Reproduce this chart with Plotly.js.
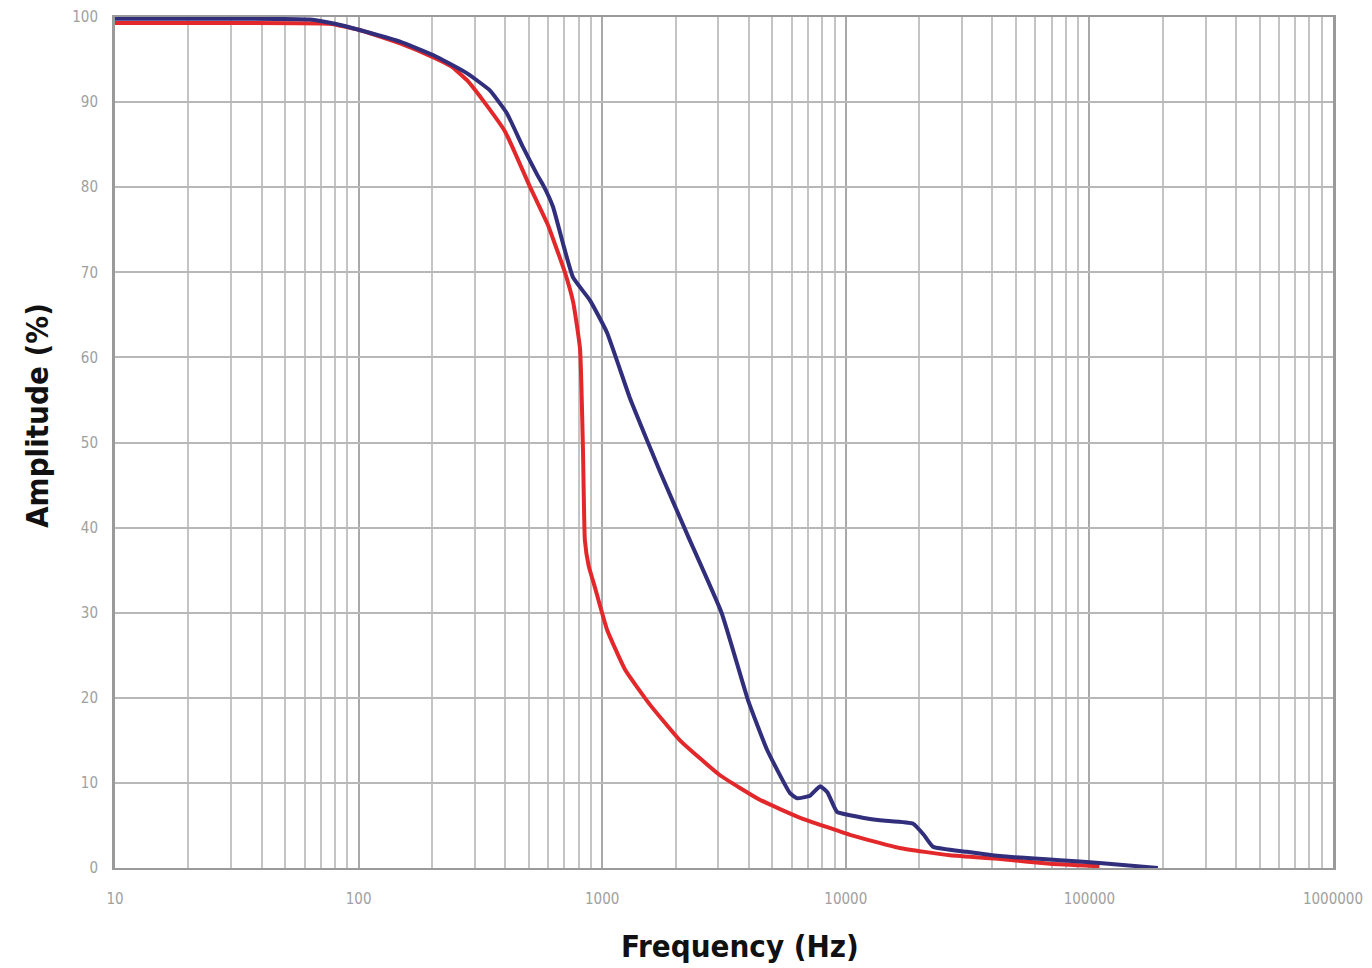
<!DOCTYPE html>
<html>
<head>
<meta charset="utf-8">
<script src="https://cdn.plot.ly/plotly-3.0.1.min.js"></script>
<style>
html,body{margin:0;padding:0;background:#fff;}
#chart{width:1372px;height:968px;}
</style>
</head>
<body>
<div id="chart"></div>
<script>
// Frequency (Hz) and amplitude (%)
const blueFreq = [10, 30, 63, 80, 100, 148, 203, 278, 345, 406, 473, 540, 571, 628, 690, 759, 891, 1047, 1300, 1541, 1726, 2250, 3090, 3970, 4750, 5900, 6310, 7130, 7840, 8400, 9200, 10400, 13800, 18900, 20900, 22800, 31400, 43000, 75700, 110000, 191000];
const blueAmp  = [99.8, 99.8, 99.7, 99.2, 98.5, 97.1, 95.5, 93.4, 91.4, 88.7, 84.7, 81.5, 80.3, 77.7, 73.4, 69.4, 66.7, 62.9, 55.2, 50.0, 46.6, 39.0, 30.0, 19.7, 13.9, 8.8, 8.2, 8.5, 9.6, 8.9, 6.6, 6.2, 5.6, 5.2, 3.9, 2.5, 1.9, 1.4, 0.9, 0.6, 0.0];

const redFreq = [10, 30, 76, 100, 148, 205, 240, 278, 324, 400, 506, 600, 640, 703, 760, 811, 834, 849, 880, 933, 1047, 1242, 1570, 2085, 3045, 4450, 6500, 10400, 16600, 26800, 43000, 69000, 110000];
const redAmp  = [99.3, 99.3, 99.2, 98.5, 96.9, 95.2, 94.2, 92.6, 90.2, 86.5, 80.0, 75.5, 73.3, 70.0, 66.5, 61.0, 49.0, 38.5, 35.5, 33.0, 28.0, 23.3, 19.2, 15.0, 10.9, 8.0, 5.9, 3.9, 2.35, 1.5, 1.06, 0.5, 0.2];

const xTickVals = [10, 100, 1000, 10000, 100000, 1000000];
const xTickText = ['10', '100', '1000', '10000', '100000', '1000000'];
const yTickVals = [0, 10, 20, 30, 40, 50, 60, 70, 80, 90, 100];
const yTickText = ['0', '10', '20', '30', '40', '50', '60', '70', '80', '90', '100'];

const traces = [
  {x: redFreq, y: redAmp, type: 'scatter', mode: 'lines', name: 'Red',
   line: {color: '#e3282b', width: 4, shape: 'spline', smoothing: 0.4}},
  {x: blueFreq, y: blueAmp, type: 'scatter', mode: 'lines', name: 'Blue',
   line: {color: '#312e7c', width: 4, shape: 'spline', smoothing: 0.4}}
];

const tickFont = {family: 'DejaVu Sans Condensed, Liberation Sans Narrow, sans-serif', size: 15, color: '#a0a0a0'};
const titleFont = {family: 'DejaVu Sans Condensed, sans-serif', size: 31, color: '#111', weight: 'bold'};

const layout = {
  width: 1372, height: 968,
  margin: {l: 115, r: 39, t: 17, b: 100},
  paper_bgcolor: '#fff', plot_bgcolor: '#fff',
  showlegend: false,
  xaxis: {
    type: 'log', range: [1, 6],
    tickmode: 'array', tickvals: xTickVals, ticktext: xTickText,
    tickfont: tickFont, ticks: '', ticklabelstandoff: 16,
    showgrid: true, gridcolor: '#a9a9a9', gridwidth: 2,
    minor: {dtick: 'D1', showgrid: true, gridcolor: '#c4c4c4', gridwidth: 2, ticks: ''},
    showline: true, linecolor: '#9a9a9a', linewidth: 2, mirror: true,
    zeroline: false
  },
  yaxis: {
    range: [0, 100],
    tickmode: 'array', tickvals: yTickVals, ticktext: yTickText,
    tickfont: tickFont, ticks: '', ticklabelstandoff: 11,
    showgrid: true, gridcolor: '#b8b8b8', gridwidth: 2,
    showline: true, linecolor: '#9a9a9a', linewidth: 3, mirror: true,
    zeroline: false
  },
  annotations: [
    {text: 'Frequency (Hz)', xref: 'paper', yref: 'paper', x: (740 - 115) / 1218, y: (968 - 100 - 946) / 851,
     xanchor: 'center', yanchor: 'middle', showarrow: false, font: titleFont},
    {text: 'Amplitude (%)', xref: 'paper', yref: 'paper', x: (37 - 115) / 1218, y: (868 - 416) / 851,
     xanchor: 'center', yanchor: 'middle', showarrow: false, textangle: -90, font: titleFont}
  ]
};

Plotly.newPlot('chart', traces, layout, {displayModeBar: false, staticPlot: true});
</script>
</body>
</html>
